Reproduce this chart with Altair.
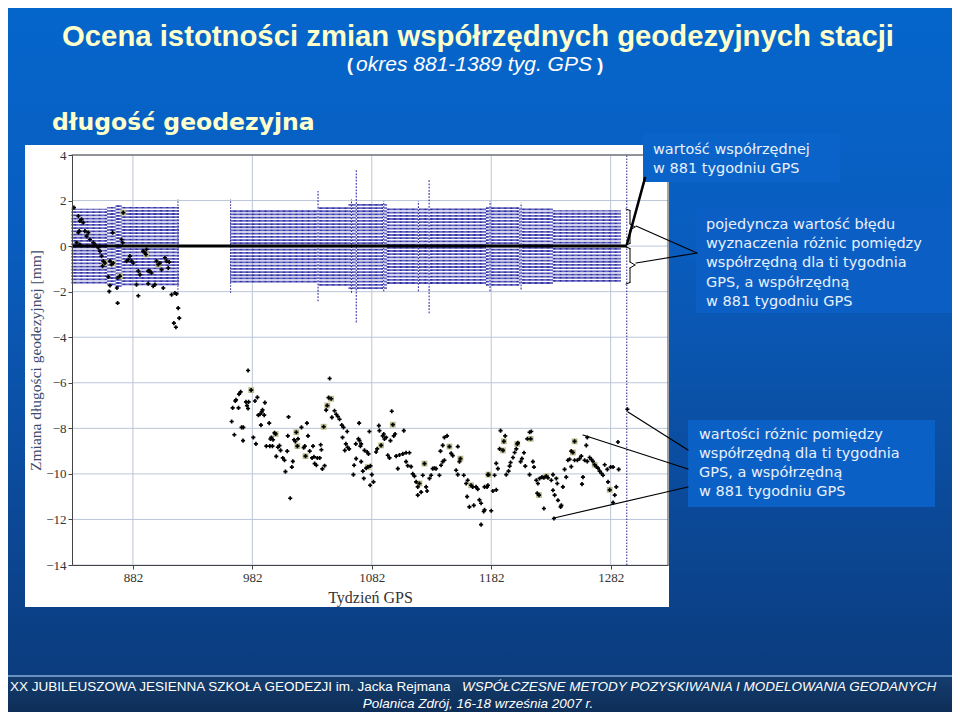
import altair as alt
import pandas as pd

# ---------------- data ----------------
# error-bar half widths (mm): runs of GPS weeks with the same value, plus single spikes
err_runs = [(831, 860, 1.64), (861, 867, 1.72), (868, 872, 1.80), (873, 920, 1.72),
            (964, 1036, 1.60), (1037, 1037, 2.42), (1038, 1062, 1.74), (1063, 1094, 1.88),
            (1095, 1177, 1.66), (1178, 1205, 1.74), (1206, 1233, 1.66), (1234, 1290, 1.57)]
err_spikes = [(1065, 2.05), (1069, 3.35), (1092, 1.98), (1121, 1.98), (1130, 2.95),
              (1181, 1.98), (1207, 1.90)]

# differences of coordinate (mm) vs GPS week
pts_week = [
    832.6, 836.3, 839, 837.6, 840.4, 837.1, 836.3, 841.8, 844.6, 843.2, 834.9, 837.6, 846, 848.8,
    850.2, 853, 854.4, 855.8, 857.2, 858.6, 856.6, 862.8, 864.1, 865.5, 861.4, 862.2, 869.2, 865,
    869.1, 868.6, 872.5, 873.4, 873.9, 876.7, 878.1, 880.9, 882.3, 879.5, 886.5, 887.9, 885, 886.5,
    890.6, 892, 893.4, 896.2, 897.6, 899, 900.4, 901.8, 903.2, 904.6, 908.8, 910.2, 911.6, 907.4,
    914.4, 917.2, 918.5, 919.9, 920.8, 916.3, 918, 871.1, 894.8, 906, 912.4, 894.8, 862.8, 892.9,
    978.4, 1046.7, 981, 972.2, 970.8, 967.7, 968.3, 965.5, 970.4, 964.7, 966.9, 973, 974.4, 974.2,
    976.7, 978.9, 977.5, 978.4, 984.2, 986.2, 982.8, 985, 989.2, 987, 988.4, 990.5, 989.9, 992.5,
    991.9, 996.1, 993.7, 996.6, 998.8, 997.9, 997.1, 1000.6, 1001.5, 999.3, 1003.4, 1004.7, 1002,
    1005.6, 1007.5, 1008.9, 1009.7, 1011.2, 1012.3, 1011.7, 1015.9, 1015.1, 1013.7, 1018.8, 1016.9,
    1018, 1020.2, 1019.7, 1023.1, 1025, 1025.9, 1027.7, 1028.6, 1026.5, 1030, 1032.8, 1032, 1033.6,
    1034.2, 1035.6, 1036.4, 1038.4, 1039.8, 1039.2, 1040.6, 1042.5, 1041.7, 1043.8, 1044.7, 1045.8,
    1048, 1048.6, 1050.8, 1052.2, 1053.6, 1055, 1056.9, 1058.3, 1061.4, 1057.5, 1060.3, 1061.7, 1063,
    1059.4, 1068.6, 1070.8, 1067.2, 1066.6, 1071.4,
    1071.7, 1073.1, 1072.5, 1068.9, 1073.1, 1075.9, 1078.1, 1079.2, 1075.3, 1074.5, 1077.3, 1078.7,
    1080.9, 1082, 1080.6, 1083.4, 1080, 1085.6, 1086.5, 1088.4, 1087.9, 1089.8, 1091.2, 1092.6, 1094,
    1092, 1095.4, 1096.8, 1098.7, 1099.6, 1097.6, 1100.4, 1101.5, 1108.8, 1102.4, 1105.2, 1108,
    1110.7, 1113.5, 1103.8, 1110.7, 1112.1, 1114.9, 1116.3, 1117.7, 1119.1, 1121.9, 1120.5, 1120.5,
    1123.3, 1124.7, 1126.1, 1127.5, 1128.3, 1130.3, 1131.7, 1133, 1134.4, 1135.8, 1138.6, 1140,
    1141.4, 1142.8, 1141.4, 1142.8, 1145, 1139.5, 1147, 1148.4, 1149.8, 1154, 1155.4, 1156.2, 1152.6,
    1154, 1159, 1161, 1162.3, 1165.1, 1166.5, 1169.3, 1170.7, 1161.8, 1163.7, 1167.4, 1172.1, 1173.5,
    1175.7, 1173.5, 1178.5, 1179.1,
    1176.4, 1179.2, 1176.4, 1182, 1179.8, 1183.4, 1186.2, 1184.8, 1186.2, 1187.6, 1189.8, 1189,
    1191.8, 1192.6, 1193.7, 1194.6, 1196.5, 1197.4, 1198.2, 1200.2, 1201.6, 1203, 1203.8, 1204.3,
    1206.6, 1207.7, 1209.4, 1210.5, 1212.2, 1215, 1214.1, 1215.5, 1214.1, 1216.9, 1217.8, 1219.7,
    1221.1, 1222.5, 1224.5, 1226.1, 1228.1, 1229.5, 1220.5, 1222, 1226.1, 1232.3, 1233.7, 1236.5,
    1237.3, 1233.7, 1235.1, 1237.9, 1240.1, 1240.7, 1242, 1234.5, 1243.4, 1244.8, 1246.2, 1247.6,
    1249, 1250.4, 1251.8, 1249, 1251.8, 1254.1, 1256, 1257.4, 1261.6, 1262.4, 1260.2, 1262.4, 1264.4,
    1265.8, 1267.2, 1268.6, 1270, 1258.8, 1258, 1271.4, 1272.8, 1274.2, 1275.6, 1277, 1279.2, 1282,
    1279.8, 1281.2, 1285.4, 1286.7, 1284, 1284, 1288.7, 1288.1, 1296]
pts_val = [
    1.69, 1.32, 1.18, 1.1, 1.03, 0.66, 0.59, 0.66, 0.59, 0.44, 0.15, 0.07, 0.29, 0.15,
    0.07, -0.07, -0.22, -0.44, -0.66, -0.74, -0.88, -0.66, -0.81, -0.74, -1.35, -1.99, -2.5, 0.59,
    -1.4, -1.84, 0.29, 0.15, 1.47, -0.66, -0.59, -0.66, -0.74, -0.44, -1.1, -1.25, -1.69, -2.18,
    -0.22, -0.29, -0.15, -1.1, -1.18, -1.76, -1.69, -0.66, -0.81, -0.74, -0.51, -0.66, -0.96, -1.84,
    -2.13, -2.06, -2.1, -2.72, -3.16, -3.38, -3.56, -1.32, -1.1, -1.03, -0.7, -1.65, -1.73, -0.37,
    -5.46, -5.81, -6.32, -6.4, -6.5, -6.8, -6.75, -7.1, -7.1, -7.7, -8.28, -7.96, -7.96, -8.54,
    -6.84, -6.84, -7.0, -7.13, -6.8, -6.64, -8.4, -8.68, -7.86, -7.42, -7.38, -7.19, -7.28, -6.87,
    -7.42, -7.77, -8.78, -8.78, -8.78, -8.4, -8.47, -8.2, -8.25, -8.5, -8.83, -8.76, -9.23,
    -8.97, -9.3, -9.4, -9.9, -9.0, -7.5, -8.33, -9.45, -9.7, -11.07, -8.17, -8.5,
    -8.57, -8.46, -8.78, -7.96, -8.85, -8.78, -7.77, -8.33, -9.22, -9.0, -8.78, -9.3, -9.25,
    -9.55, -9.62, -9.3, -9.3, -8.94, -8.72, -9.78, -9.64, -7.93, -7.2, -7.0, -6.65,
    -6.7, -7.52, -7.23, -7.38, -7.48, -7.6, -7.86, -7.96, -8.14, -8.4, -8.68, -8.83, -8.9,
    -8.97, -8.68, -8.46, -9.62, -10.03, -7.77,
    -8.54, -8.68, -8.78, -9.33, -9.46, -8.97, -9.04, -9.12, -10.2, -9.88, -9.75, -9.7,
    -9.65, -10.03, -10.5, -10.35, -8.14, -9.04, -8.9, -8.1, -7.88, -8.75, -8.33, -8.47, -8.4,
    -8.25, -9.18, -9.3, -7.25, -7.84, -8.54, -8.33, -8.25, -8.1, -9.22, -9.17, -9.12,
    -9.07, -9.07, -9.77, -9.46, -9.64, -9.68, -10.0, -10.1, -10.35, -10.42, -10.57, -10.93,
    -10.8, -10.06, -9.55, -10.57, -10.75, -10.2, -10.06, -9.77, -9.75, -9.77, -10.06, -9.62,
    -9.46, -9.4, -8.75, -8.4, -8.33, -9.0, -8.8, -9.1, -9.2, -8.8, -9.46, -9.33, -9.84,
    -10.03, -10.06, -10.42, -10.28, -10.5, -10.57, -10.57, -10.67, -11.0, -11.45, -11.38, -11.14, -11.29,
    -11.65, -12.23, -10.57, -10.03,
    -10.57, -10.5, -11.58, -11.62, -10.03, -10.75, -10.7, -10.06, -9.54, -9.77, -8.1, -8.9,
    -8.97, -8.57, -8.33, -10.03, -9.88, -9.66, -9.5, -9.28, -9.06, -8.9, -8.68, -8.64,
    -9.46, -9.33, -9.07, -9.66, -8.46, -8.46, -8.17, -8.14, -10.03, -9.46, -9.7, -10.28,
    -10.42, -10.2, -10.14, -10.17, -10.1, -10.17, -10.85, -10.93, -11.52, -10.28, -10.03, -10.2,
    -10.42, -10.72, -10.93, -11.16, -11.45, -11.38, -10.57, -11.96, -9.8, -10.14, -9.4, -9.36,
    -9.0, -9.06, -8.57, -9.68, -9.4, -9.4, -9.33, -9.22, -8.75, -8.4, -9.4, -9.45, -9.28,
    -9.36, -9.45, -9.6, -9.68, -10.14, -10.45, -9.75, -9.88, -9.97, -10.06, -9.6, -9.8, -9.7,
    -10.35, -10.7, -10.93, -10.57, -11.26, -9.7, -9.8, -8.6, -7.16]

# highlighted (olive background) points
hl_week = [858.6, 865.5, 871.1, 873.9, 892.9, 903.2, 981, 1001.5, 1018.8, 1019.7, 1026.5, 1041.7,
           1044.7, 1048, 1078.7, 1089.8, 1099.6, 1121.9, 1126.1, 1147, 1156.2, 1165.1, 1179.8,
           1191.8, 1192.6, 1203.8, 1215, 1222, 1228.1, 1250.4, 1251.8, 1268.6, 1281.2]
hl_val = [-0.74, -0.76, -1.32, 1.47, -0.37, -0.81, -6.32, -8.25, -8.17, -8.78, -9.22, -7.93,
          -7.0, -6.7, -9.7, -8.75, -7.84, -10.42, -9.55, -8.8, -9.33, -10.5, -10.03,
          -8.97, -8.57, -8.68, -8.46, -10.93, -10.1, -9.06, -8.57, -9.6, -10.7]

x_ticks = [882, 982, 1082, 1182, 1282]
y_ticks = [-14, -12, -10, -8, -6, -4, -2, 0, 2, 4]

# dotted reference error bars (week, low, high)
dot_week = [919.7, 963.8, 1295.5]
dot_low = [-2.05, -2.05, -14]
dot_high = [2.05, 2.05, 4]

# ---------------- layout helpers ----------------
OX, OY = 72, 155          # plot-area origin in page pixels
W, H = 596, 410


def px(X):
    return X - OX


def py(Y):
    return Y - OY


one = pd.DataFrame({"k": [0]})

err = {}
for a, b, e in err_runs:
    for w in range(a, b + 1):
        err[w] = e
for w, e in err_spikes:
    err[w] = e
err_df = pd.DataFrame({"week": list(err.keys()),
                       "val": [-v for v in err.values()],
                       "val2": list(err.values())})

pts_df = pd.DataFrame({"week": pts_week, "val": pts_val})
hl_df = pd.DataFrame({"week": hl_week, "val": hl_val})

XS = alt.Scale(domain=[831, 1330], nice=False, zero=False)
YS = alt.Scale(domain=[-14, 4], nice=False, zero=False)
x_axis = alt.Axis(values=x_ticks, format="d", grid=False, zindex=1, title="Tydzień GPS",
                  labelFont="Liberation Serif", labelFontSize=13, labelColor="#333333",
                  titleFont="Liberation Serif", titleFontSize=16, titleFontWeight="normal",
                  titleColor="#333333", titlePadding=5, tickSize=4, tickColor="#444444",
                  domainColor="#444444", labelPadding=2)
y_axis = alt.Axis(values=y_ticks, format="d", grid=False, zindex=1,
                  title="Zmiana długości geodezyjnej [mm]",
                  labelFont="Liberation Serif", labelFontSize=13, labelColor="#333333",
                  titleFont="Liberation Serif", titleFontSize=15.5, titleFontWeight="normal",
                  titleColor="#3d4b6e", titlePadding=2, tickSize=4, tickColor="#444444",
                  domainColor="#444444", labelPadding=2)
X = alt.X("week:Q", scale=XS, axis=x_axis)
Y = alt.Y("val:Q", scale=YS, axis=y_axis)


def rect(x1, y1, x2, y2, color, **kw):
    return alt.Chart(one).mark_rect(color=color, **kw).encode(
        x=alt.value(px(x1)), x2=alt.value(px(x2)), y=alt.value(py(y1)), y2=alt.value(py(y2)))


def seg(x1, y1, x2, y2, w=1.2, color="black"):
    return alt.Chart(one).mark_rule(strokeWidth=w, color=color, strokeCap="round").encode(
        x=alt.value(px(x1)), y=alt.value(py(y1)), x2=alt.value(px(x2)), y2=alt.value(py(y2)))


def text(s, x, y, size, color, font="DejaVu Sans", weight="normal", style="normal",
         align="left", opacity=1.0):
    return alt.Chart(one).mark_text(text=s, font=font, fontSize=size, fontWeight=weight,
                                    fontStyle=style, align=align, baseline="middle",
                                    color=color, opacity=opacity).encode(
        x=alt.value(px(x)), y=alt.value(py(y)))


layers = []

# background
bg = alt.LinearGradient(gradient="linear", x1=0, x2=0, y1=0, y2=1,
                        stops=[alt.GradientStop(offset=0, color="#0566cc"),
                               alt.GradientStop(offset=0.35, color="#095dbf"),
                               alt.GradientStop(offset=0.7, color="#0b4c9e"),
                               alt.GradientStop(offset=1, color="#0b3c7e")])
layers.append(rect(0, 0, 960, 676, bg))
foot = alt.LinearGradient(gradient="linear", x1=0, x2=0, y1=0, y2=1,
                          stops=[alt.GradientStop(offset=0, color="#143d6e"),
                                 alt.GradientStop(offset=1, color="#0c2a52")])
layers.append(rect(0, 676, 960, 720, foot))
layers.append(seg(0, 676, 960, 676, 1.5, "#86acd8"))

# white panel
layers.append(rect(25, 145, 669, 607, "#ffffff"))

# grid
gx = pd.DataFrame({"week": x_ticks})
layers.append(alt.Chart(gx).mark_rule(color="#bcc5d8", strokeWidth=1).encode(
    x=X, y=alt.value(0), y2=alt.value(H)))
gy = pd.DataFrame({"val": y_ticks})
layers.append(alt.Chart(gy).mark_rule(color="#bcc5d8", strokeWidth=1).encode(
    y=Y, x=alt.value(0), x2=alt.value(W)))

# error bars
layers.append(alt.Chart(err_df).mark_rule(color="#2828a6", strokeWidth=1.05,
                                          strokeDash=[1.8, 1.4]).encode(
    x=X, y=Y, y2=alt.Y2("val2:Q")))
dot_df = pd.DataFrame({"week": dot_week, "val": dot_low, "val2": dot_high})
layers.append(alt.Chart(dot_df).mark_rule(color="#22228a", strokeWidth=1,
                                          strokeDash=[1.5, 1.5]).encode(
    x=X, y=Y, y2=alt.Y2("val2:Q")))

# zero line (value in week 881)
zl = pd.DataFrame({"week": [831], "week2": [1295.5], "val": [0]})
layers.append(alt.Chart(zl).mark_rule(color="black", strokeWidth=3).encode(
    x=X, x2=alt.X2("week2:Q"), y=Y))

# plot border (top / right)
layers.append(seg(OX, 155, 668, 155, 1, "#444444"))
layers.append(seg(668, 155, 668, 565, 1, "#444444"))

# scatter
layers.append(alt.Chart(hl_df).mark_point(shape="square", filled=True, color="#b8b888",
                                          size=34, opacity=0.95).encode(x=X, y=Y))
layers.append(alt.Chart(pts_df).mark_point(shape="cross", filled=True, color="#000000",
                                           size=17, opacity=1).encode(x=X, y=Y))

# braces
for top, mid, bot in [(209, 227, 245), (247, 265, 284)]:
    layers.append(seg(626, top, 630, top + 1.5, 1))
    layers.append(seg(630, top + 1.5, 630, mid - 3, 1))
    layers.append(seg(630, mid - 3, 635, mid, 1))
    layers.append(seg(635, mid, 630, mid + 3, 1))
    layers.append(seg(630, mid + 3, 630, bot - 1.5, 1))
    layers.append(seg(630, bot - 1.5, 626, bot, 1))

# annotation boxes
layers.append(rect(643, 133, 840, 182, "#0a63c8"))
layers.append(rect(696, 207, 955, 313, "#0b5fc4"))
layers.append(rect(688, 420, 935, 507, "#0b60c5"))

# annotation leader lines
layers.append(seg(645, 178, 627, 244, 2.6))
layers.append(seg(636, 226, 697, 253, 1.2))
layers.append(seg(636, 263, 697, 253, 1.2))
layers.append(seg(628, 412, 688, 450, 1.2))
layers.append(seg(583, 435, 688, 469, 1.2))
layers.append(seg(554, 518, 688, 487, 1.2))

TXT = "#e8f0fc"
for i, s in enumerate(["wartość współrzędnej", "w 881 tygodniu GPS"]):
    layers.append(text(s, 653, 150 + 19 * i, 14.5, TXT))
for i, s in enumerate(["pojedyncza wartość błędu", "wyznaczenia różnic pomiędzy",
                       "współrzędną dla ti tygodnia", "GPS, a współrzędną",
                       "w 881 tygodniu GPS"]):
    layers.append(text(s, 706, 225 + 19.2 * i, 14.5, TXT))
for i, s in enumerate(["wartości różnic pomiędzy", "współrzędną dla ti tygodnia",
                       "GPS, a współrzędną", "w 881 tygodniu GPS"]):
    layers.append(text(s, 699, 435 + 19 * i, 14.5, TXT))

# titles
title = "Ocena istotności zmian współrzędnych geodezyjnych stacji"
layers.append(text(title, 478, 37, 29.3, "#ffffcc", font="Liberation Sans", weight="bold",
                   align="center"))
layers.append(text("(", 353, 65, 19, "#ffffff", font="Liberation Sans", weight="bold",
                   align="right"))
layers.append(text("okres 881-1389 tyg. GPS", 474, 65, 21, "#ffffff", font="Liberation Sans",
                   style="italic", align="center"))
layers.append(text(")", 597, 65, 19, "#ffffff", font="Liberation Sans", weight="bold"))
layers.append(text("długość geodezyjna", 52, 123, 23.5, "#ffffcc", weight="bold"))

# footer
layers.append(text("XX JUBILEUSZOWA JESIENNA SZKOŁA GEODEZJI im. Jacka Rejmana", 10, 687, 13.5,
                   "#ffffff", font="Liberation Sans"))
layers.append(text("WSPÓŁCZESNE METODY POZYSKIWANIA I MODELOWANIA GEODANYCH", 462, 687, 13.5,
                   "#ffffff", font="Liberation Sans", style="italic"))
layers.append(text("Polanica Zdrój, 16-18 września 2007 r.", 478, 704, 13.5, "#ffffff",
                   font="Liberation Sans", style="italic", align="center"))

chart = alt.layer(*layers).properties(
    width=W, height=H,
    autosize=alt.AutoSizeParams(type="none"),
    padding={"left": OX - 8, "top": OY - 8, "right": 944 - (OX - 8) - W,
             "bottom": 704 - (OY - 8) - H},
).configure(background="#0b55b0").configure_view(strokeWidth=0)

chart.save("out.html", embed_options={"renderer": "svg", "actions": False})
